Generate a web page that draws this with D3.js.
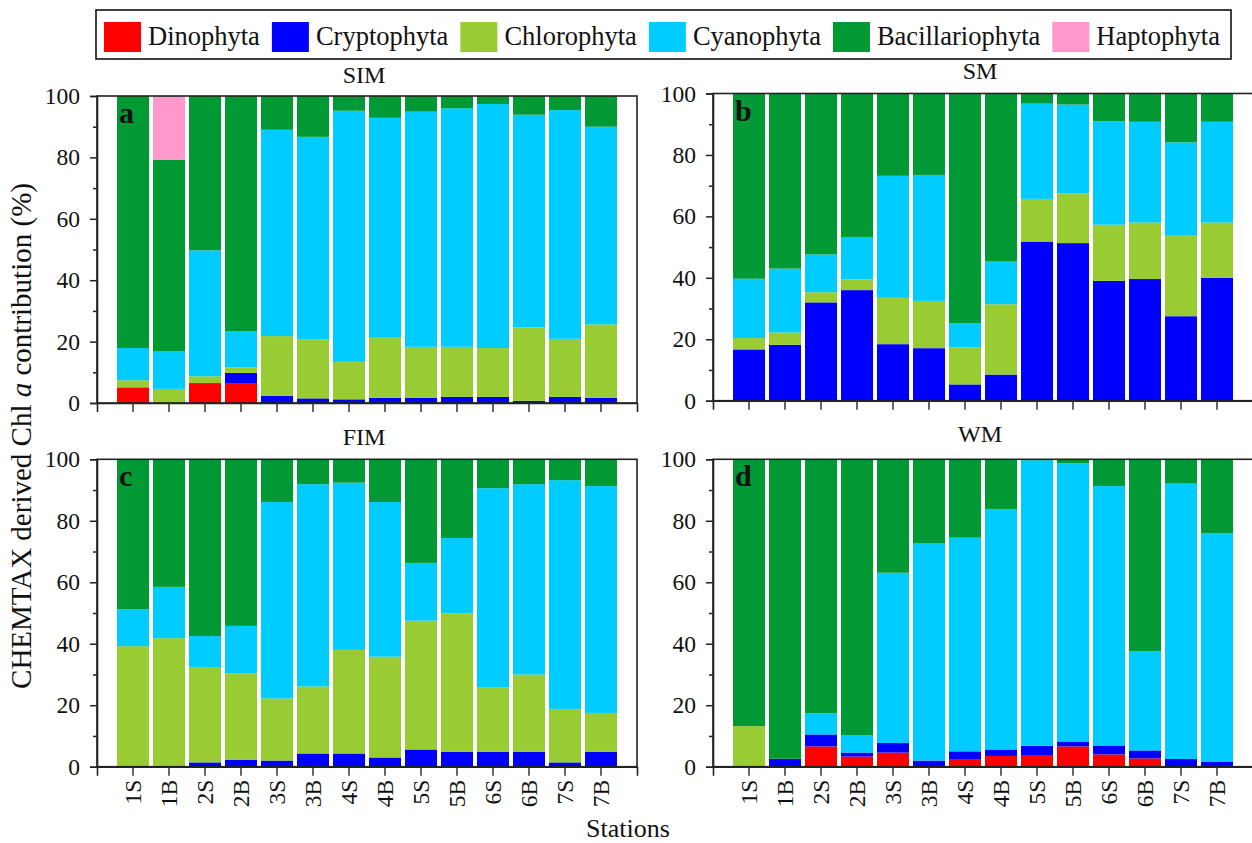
<!DOCTYPE html>
<html>
<head>
<meta charset="utf-8">
<script src="https://cdn.jsdelivr.net/npm/d3@7"></script>
<style>
  body { margin: 0; background: #fff; }
  svg { display: block; font-family: "Liberation Serif", "Times New Roman", serif; }
</style>
</head>
<body>
<div id="chart"></div>
<script>
// stations along the x axis
const stations = ["1S", "1B", "2S", "2B", "3S", "3B", "4S", "4B", "5S", "5B", "6S", "6B", "7S", "7B"];
const groups = ["Dinophyta", "Cryptophyta", "Chlorophyta", "Cyanophyta", "Bacillariophyta", "Haptophyta"];
const groupColors = ["#ff0000", "#0000ff", "#99cc33", "#00ccff", "#009933", "#ff99cc"];
const yTicks = [0, 20, 40, 60, 80, 100];

// contribution (%) per group, rows in the order of `groups`
const simValues = [
    [5.1, 0, 6.5, 6.5, 0, 0, 0, 0, 0, 0, 0, 0, 0, 0],
    [0, 0, 0, 3.3, 2.3, 1.5, 1.2, 1.7, 1.7, 2.0, 2.0, 0.7, 2.0, 1.7],
    [2.3, 4.6, 2.2, 1.8, 19.5, 19.3, 12.2, 19.8, 16.6, 16.3, 15.9, 23.9, 18.9, 23.9],
    [10.5, 12.2, 41.0, 11.7, 67.2, 65.9, 81.8, 71.4, 76.6, 77.7, 79.5, 69.3, 74.5, 64.4],
    [82.1, 62.4, 50.3, 76.7, 11.0, 13.3, 4.8, 7.1, 5.1, 4.0, 2.6, 6.1, 4.6, 10.0],
    [0, 20.8, 0, 0, 0, 0, 0, 0, 0, 0, 0, 0, 0, 0]
];
const smValues = [
    [0, 0, 0, 0, 0, 0, 0, 0, 0, 0, 0, 0, 0, 0],
    [16.7, 18.2, 32.0, 36.0, 18.4, 17.1, 5.3, 8.5, 51.8, 51.3, 39.0, 39.6, 27.5, 40.0],
    [3.7, 4.0, 3.3, 3.5, 15.1, 15.4, 12.1, 22.9, 13.9, 16.2, 18.3, 18.4, 26.2, 18.0],
    [19.3, 20.8, 12.3, 13.8, 39.7, 41.0, 7.9, 13.9, 31.0, 28.9, 33.7, 32.8, 30.4, 32.8],
    [60.3, 57.0, 52.4, 46.7, 26.8, 26.5, 74.7, 54.7, 3.3, 3.6, 9.0, 9.2, 15.9, 9.2],
    [0, 0, 0, 0, 0, 0, 0, 0, 0, 0, 0, 0, 0, 0]
];
const fimValues = [
    [0, 0, 0, 0, 0, 0, 0, 0, 0, 0, 0, 0, 0, 0],
    [0, 0, 1.4, 2.2, 2.0, 4.3, 4.3, 3.0, 5.6, 4.8, 4.8, 4.8, 1.4, 4.8],
    [39.2, 41.8, 31.0, 28.2, 20.2, 21.8, 33.7, 32.8, 41.9, 45.1, 21.1, 25.2, 17.4, 12.7],
    [12.0, 16.7, 10.1, 15.4, 63.9, 65.8, 54.4, 50.3, 18.8, 24.5, 64.7, 61.9, 74.4, 73.8],
    [48.8, 41.5, 57.5, 54.2, 13.9, 8.1, 7.6, 13.9, 33.7, 25.6, 9.4, 8.1, 6.8, 8.7],
    [0, 0, 0, 0, 0, 0, 0, 0, 0, 0, 0, 0, 0, 0]
];
const wmValues = [
    [0, 0, 6.6, 3.3, 4.6, 0, 2.5, 3.5, 3.8, 6.6, 4.0, 2.7, 0, 0],
    [0, 2.6, 3.9, 1.3, 3.1, 2.0, 2.5, 2.1, 3.0, 1.6, 2.9, 2.6, 2.5, 1.7],
    [13.2, 0, 0, 0, 0, 0, 0, 0, 0, 0, 0, 0, 0, 0],
    [0, 0, 6.9, 5.7, 55.4, 70.6, 69.5, 78.2, 92.9, 90.5, 84.4, 32.3, 89.6, 74.2],
    [86.8, 97.4, 82.6, 89.7, 36.9, 27.4, 25.5, 16.2, 0.3, 1.3, 8.7, 62.4, 7.9, 24.1],
    [0, 0, 0, 0, 0, 0, 0, 0, 0, 0, 0, 0, 0, 0]
];

const width = 1252, height = 843;
const svg = d3.select("#chart").append("svg")
    .attr("width", width)
    .attr("height", height);

const colorScale = d3.scaleOrdinal().domain(groups).range(groupColors);

const panels = [
    { title: "SIM", letter: "a", values: simValues, left: 97, right: 637, top: 96, bottom: 403, labels: false, titleY: 83 },
    { title: "SM", letter: "b", values: smValues, left: 713, right: 1253, top: 93.5, bottom: 400.7, labels: false, titleY: 79 },
    { title: "FIM", letter: "c", values: fimValues, left: 97, right: 637, top: 459.3, bottom: 766.7, labels: true, titleY: 445 },
    { title: "WM", letter: "d", values: wmValues, left: 713, right: 1253, top: 459.3, bottom: 766.7, labels: true, titleY: 442 }
];

function drawPanel(p) {
    let rows = stations.map((s, i) => {
        let row = { station: s };
        groups.forEach((g, k) => row[g] = p.values[k][i]);
        return row;
    });
    let series = d3.stack().keys(groups)(rows);

    let x = d3.scaleBand()
        .domain(stations)
        .range([p.left, p.right])
        .paddingInner(0.111)
        .paddingOuter(0.556);
    let y = d3.scaleLinear().domain([0, 100]).range([p.bottom, p.top]);

    let g = svg.append("g");

    g.selectAll("g.layer")
        .data(series)
        .enter()
        .append("g")
        .attr("class", "layer")
        .attr("fill", d => colorScale(d.key))
        .selectAll("rect")
        .data(d => d)
        .enter()
        .append("rect")
        .attr("x", d => x(d.data.station))
        .attr("y", d => y(d[1]))
        .attr("width", x.bandwidth())
        .attr("height", d => Math.max(0, y(d[0]) - y(d[1])));

    // frame
    g.append("rect")
        .attr("x", p.left)
        .attr("y", p.top)
        .attr("width", p.right - p.left)
        .attr("height", p.bottom - p.top)
        .attr("fill", "none")
        .attr("stroke", "#222")
        .attr("stroke-width", 1.6);

    // y axis: major + minor ticks
    let yAxis = g.append("g")
        .attr("transform", `translate(${p.left},0)`)
        .call(d3.axisLeft(y).tickValues(yTicks).tickSize(7).tickPadding(10));
    yAxis.select(".domain").attr("stroke", "#222").attr("stroke-width", 1.6);
    yAxis.selectAll(".tick line").attr("stroke", "#222").attr("stroke-width", 1.5);
    yAxis.selectAll("text")
        .attr("font-family", "Liberation Serif")
        .attr("font-size", 23.5)
        .attr("fill", "#111");

    g.append("g")
        .attr("transform", `translate(${p.left},0)`)
        .call(d3.axisLeft(y).tickValues([10, 30, 50, 70, 90]).tickSize(4).tickFormat(""))
        .call(a => a.select(".domain").remove())
        .selectAll(".tick line").attr("stroke", "#222").attr("stroke-width", 1.5);

    // x axis
    let xAxis = g.append("g")
        .attr("transform", `translate(0,${p.bottom})`)
        .call(d3.axisBottom(x).tickSize(9).tickFormat(""));
    xAxis.select(".domain").attr("stroke", "#222").attr("stroke-width", 1.6);
    xAxis.selectAll(".tick line").attr("stroke", "#333").attr("stroke-width", 1.5);

    if (p.labels) {
        xAxis.selectAll(".tick")
            .append("text")
            .attr("transform", "rotate(-90)")
            .attr("x", -13)
            .attr("y", 0)
            .attr("dy", "0.35em")
            .attr("text-anchor", "end")
            .attr("font-family", "Liberation Serif")
            .attr("font-size", 23.5)
            .attr("fill", "#111")
            .text(d => d);
    }

    svg.append("text")
        .attr("x", (p.left + p.right) / 2 - 3)
        .attr("y", p.titleY)
        .attr("text-anchor", "middle")
        .attr("font-size", 24)
        .attr("fill", "#111")
        .text(p.title);

    svg.append("text")
        .attr("x", p.left + 22)
        .attr("y", p.top + 27)
        .attr("font-size", 30)
        .attr("font-weight", "bold")
        .attr("fill", "#111")
        .text(p.letter);
}

panels.forEach(drawPanel);

// legend
let legend = svg.append("g");
legend.append("rect")
    .attr("x", 96)
    .attr("y", 10)
    .attr("width", 1135)
    .attr("height", 49)
    .attr("fill", "#fff")
    .attr("stroke", "#111")
    .attr("stroke-width", 1.6);

let cursor = 104;
groups.forEach((grp, i) => {
    legend.append("rect")
        .attr("x", cursor)
        .attr("y", 22)
        .attr("width", 37)
        .attr("height", 30)
        .attr("fill", groupColors[i]);
    let t = legend.append("text")
        .attr("x", cursor + 44)
        .attr("y", 45)
        .attr("font-size", 26.5)
        .attr("fill", "#111")
        .text(grp);
    cursor += 44 + t.node().getComputedTextLength() + 12;
});

// axis titles
svg.append("text")
    .attr("transform", `translate(31,${436}) rotate(-90)`)
    .attr("text-anchor", "middle")
    .attr("font-size", 29)
    .attr("fill", "#111")
    .text("CHEMTAX derived Chl ")
    .append("tspan")
    .attr("font-style", "italic")
    .text("a")
    .select(function() { return this.parentNode; })
    .append("tspan")
    .text(" contribution (%)");

svg.append("text")
    .attr("x", 628)
    .attr("y", 837)
    .attr("text-anchor", "middle")
    .attr("font-size", 26)
    .attr("fill", "#111")
    .text("Stations");
</script>
</body>
</html>
